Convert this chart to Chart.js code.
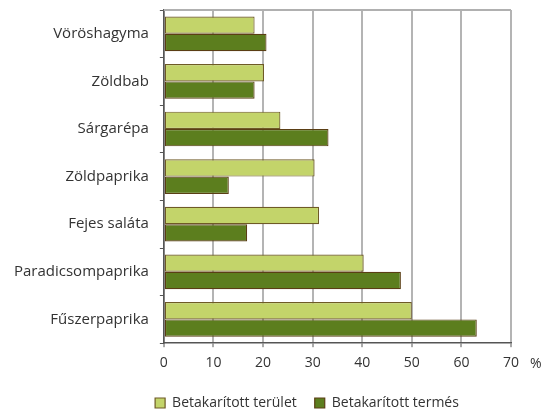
<!DOCTYPE html>
<html><head><meta charset="utf-8">
<script src="https://cdn.jsdelivr.net/npm/chart.js@4/dist/chart.umd.min.js"></script>
<style>html,body{margin:0;padding:0;background:#fff}#w{width:547px;height:420px}</style>
</head><body><div id="w"><canvas id="c"></canvas></div>
<script>
const categories = ["Vöröshagyma","Zöldbab","Sárgarépa","Zöldpaprika","Fejes saláta","Paradicsompaprika","Fűszerpaprika"];
const teruletValues = [18.3, 20.2, 23.5, 30.4, 31.3, 40.3, 50.0];
const termesValues = [20.7, 18.3, 33.2, 13.1, 16.8, 47.8, 63.1];
const seriesNames = ["Betakarított terület","Betakarított termés"];
const xTicks = [0,10,20,30,40,50,60,70];
const FONT = "'Open Sans', sans-serif";

const extras = {
  id:'extras',
  afterLayout(chart){
    const lg = chart.legend;
    if (lg) { lg.left += 50; lg.right += 50; }
  },
  afterDraw(chart){
    const {ctx, chartArea:a, scales:{x}} = chart;
    ctx.save();
    ctx.strokeStyle = '#b0b0b0'; ctx.lineWidth = 2;
    ctx.beginPath(); ctx.moveTo(a.left, a.top); ctx.lineTo(a.right, a.top); ctx.stroke();
    ctx.fillStyle = '#333'; ctx.font = "14px " + FONT; ctx.textBaseline='middle'; ctx.textAlign='left';
    ctx.fillText('%', x.getPixelForValue(70) + 19, a.bottom + 21);
    ctx.restore();
  }
};

new Chart(document.getElementById('c'), {
  type:'bar',
  data:{labels:categories, datasets:[
    {label:seriesNames[0], data:teruletValues, backgroundColor:'#c3d46a', borderColor:'#6e5a26', borderWidth:1.2, borderSkipped:false, barPercentage:1, categoryPercentage:0.73},
    {label:seriesNames[1], data:termesValues, backgroundColor:'#5c7e1e', borderColor:'#5a3e14', borderWidth:1.2, borderSkipped:false, barPercentage:1, categoryPercentage:0.73}
  ]},
  options:{
    indexAxis:'y', responsive:true, maintainAspectRatio:false, animation:false,
    layout:{padding:{top:10, right:36, left:3, bottom:0}},
    plugins:{
      tooltip:{enabled:false},
      legend:{position:'bottom', labels:{boxWidth:10, boxHeight:10, padding:18, color:'#333', font:{family:FONT, size:14}}},
    },
    scales:{
      x:{min:0,max:70, afterBuildTicks(s){s.ticks = xTicks.map(v=>({value:v}));},
        grid:{color:'#b4b4b4', lineWidth:2, tickLength:4, tickColor:'#555', tickWidth:1},
        border:{color:'#555', width:1.5},
        ticks:{color:'#333', font:{family:FONT, size:14}, padding:7}},
      y:{afterFit(s){ s.paddingTop = 0; s.paddingBottom = 0; },
        grid:{offset:true, drawOnChartArea:false, tickLength:4, tickColor:'#555'},
        border:{color:'#555', width:1.5},
        ticks:{color:'#333', font:{family:FONT, size:15}, padding:11}}
    }
  },
  plugins:[extras]
});
</script></body></html>
